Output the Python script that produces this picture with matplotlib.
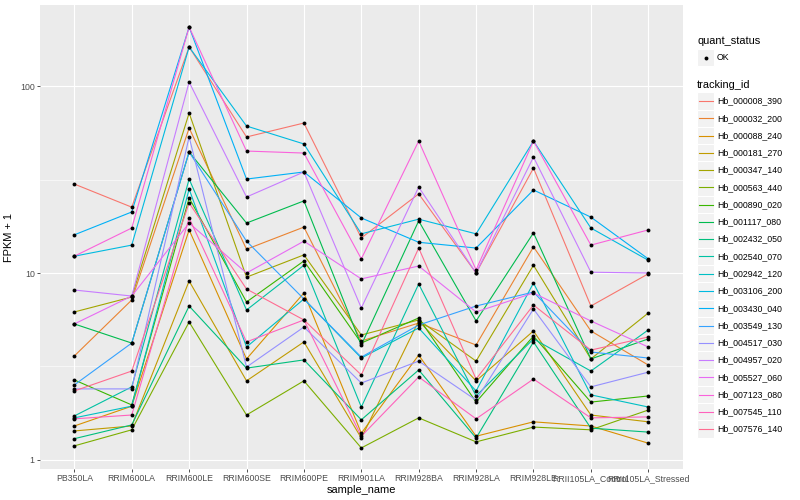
import matplotlib
matplotlib.use("Agg")
import matplotlib.pyplot as plt
from matplotlib.patches import Rectangle
import numpy as np

plt.rcParams['font.family'] = ['Liberation Sans', 'DejaVu Sans']

samples = ["PB350LA", "RRIM600LA", "RRIM600LE", "RRIM600SE", "RRIM600PE",
           "RRIM901LA", "RRIM928BA", "RRIM928LA", "RRIM928LE",
           "RRII105LA_Control", "RRII105LA_Stressed"]

tracking_ids = ["Hb_000008_390", "Hb_000032_200", "Hb_000088_240",
                "Hb_000181_270", "Hb_000347_140", "Hb_000563_440",
                "Hb_000890_020", "Hb_001117_080", "Hb_002432_050",
                "Hb_002540_070", "Hb_002942_120", "Hb_003106_200",
                "Hb_003430_040", "Hb_003549_130", "Hb_004517_030",
                "Hb_004957_020", "Hb_005527_060", "Hb_007123_080",
                "Hb_007545_110", "Hb_007576_140"]

# FPKM + 1, one list per gene, in sample order
hb_000008_390 = [29.9, 22.5, 161.7, 53.4, 63.4, 15.4, 26.5, 10.0, 36.4, 6.66, 9.9]
hb_000032_200 = [3.60, 7.17, 59.6, 13.4, 17.6, 4.33, 5.40, 4.12, 13.8, 4.90, 3.22]
hb_000088_240 = [1.52, 1.94, 17.0, 3.47, 7.82, 1.39, 3.64, 1.34, 1.60, 1.52, 1.23]
hb_000181_270 = [1.43, 1.52, 9.06, 2.65, 4.28, 1.31, 5.54, 2.65, 4.90, 1.74, 1.60]
hb_000347_140 = [6.19, 7.44, 71.7, 9.5, 12.5, 4.66, 5.61, 3.38, 11.0, 3.47, 6.11]
hb_000563_440 = [1.19, 1.45, 5.47, 1.74, 2.65, 1.16, 1.68, 1.25, 1.50, 1.45, 1.85]
hb_000890_020 = [2.68, 1.97, 25.2, 7.00, 11.6, 4.22, 5.75, 2.04, 4.60, 2.04, 2.20]
hb_001117_080 = [5.34, 4.22, 44.4, 18.5, 24.3, 4.12, 19.0, 5.54, 16.4, 3.47, 4.44]
hb_002432_050 = [1.30, 1.54, 6.66, 3.10, 3.43, 1.64, 3.03, 1.31, 4.28, 1.48, 1.41]
hb_002540_070 = [1.72, 2.46, 31.8, 6.34, 11.0, 1.92, 8.73, 2.20, 4.44, 2.99, 4.96]
hb_002942_120 = [1.68, 1.94, 28.1, 4.02, 7.26, 3.51, 5.08, 2.34, 8.84, 2.23, 1.92]
hb_003106_200 = [12.3, 14.1, 161.7, 61.1, 49.0, 16.2, 19.4, 16.2, 50.8, 17.4, 11.7]
hb_003430_040 = [16.0, 21.2, 206.8, 31.8, 34.7, 19.7, 14.6, 13.6, 27.8, 19.9, 11.9]
hb_003549_130 = [2.52, 4.22, 44.4, 14.8, 7.26, 3.55, 5.27, 6.66, 7.91, 3.78, 3.51]
hb_004517_030 = [2.40, 2.40, 53.4, 3.14, 5.14, 2.58, 3.38, 2.09, 6.42, 2.46, 2.95]
hb_004957_020 = [8.11, 7.53, 105.0, 25.5, 34.7, 6.50, 28.8, 10.0, 41.7, 10.1, 10.0]
hb_005527_060 = [5.34, 7.53, 18.5, 10.0, 14.8, 9.3, 10.9, 6.19, 7.82, 5.54, 4.02]
hb_007123_080 = [12.3, 17.4, 206.8, 44.9, 43.8, 11.9, 50.8, 10.4, 50.8, 14.1, 17.0]
hb_007545_110 = [1.66, 1.74, 19.7, 4.28, 5.61, 1.34, 2.78, 1.66, 2.71, 1.68, 1.70]
hb_007576_140 = [2.34, 2.99, 23.7, 8.21, 5.61, 2.85, 13.6, 2.71, 6.74, 3.87, 4.55]

series = [hb_000008_390, hb_000032_200, hb_000088_240, hb_000181_270,
          hb_000347_140, hb_000563_440, hb_000890_020, hb_001117_080,
          hb_002432_050, hb_002540_070, hb_002942_120, hb_003106_200,
          hb_003430_040, hb_003549_130, hb_004517_030, hb_004957_020,
          hb_005527_060, hb_007123_080, hb_007545_110, hb_007576_140]

# ggplot hue palette, 20 levels
palette = ["#F8766D", "#EA8331", "#D89000", "#C09B00", "#A3A500",
           "#7CAE00", "#39B600", "#00BB4E", "#00BF7D", "#00C1A3",
           "#00BFC4", "#00BAE0", "#00B0F6", "#35A2FF", "#9590FF",
           "#C77CFF", "#E76BF3", "#FA62DB", "#FF62BC", "#FF6C91"]

fig = plt.figure(figsize=(8, 5), dpi=100)
ax = fig.add_axes([39.9 / 800, 31 / 500, 642.8 / 800, 464 / 500])
ax.set_facecolor("#EBEBEB")

x = np.arange(len(samples))
for vals, col in zip(series, palette):
    ax.plot(x, vals, color=col, lw=0.8, zorder=3)
for vals in series:
    ax.plot(x, vals, "o", color="black", ms=2.8, mew=0, zorder=4)

ax.set_yscale("log")
ax.set_ylim(0.895, 271.2)
ax.set_xlim(-0.6, len(samples) - 0.4)

ax.set_yticks([1, 10, 100])
ax.set_yticklabels(["1", "10", "100"])
ax.set_yticks([10 ** 0.5, 10 ** 1.5], minor=True)
ax.yaxis.set_minor_formatter(matplotlib.ticker.NullFormatter())
ax.set_xticks(x)
ax.set_xticklabels(samples)

ax.grid(True, which="major", color="white", lw=0.8, zorder=1)
ax.grid(True, which="minor", axis="y", color="white", lw=0.4, zorder=1)
ax.set_axisbelow(True)
for s in ax.spines.values():
    s.set_visible(False)

ax.tick_params(which="major", length=2.2, width=0.6, color="#333333",
               labelsize=6.3, labelcolor="#4D4D4D", pad=1.5)
ax.tick_params(which="minor", length=0)

ax.set_xlabel("sample_name", fontsize=7.9, labelpad=1)
ax.set_ylabel("FPKM + 1", fontsize=7.9, labelpad=4)

# legends, laid out in pixel coordinates
lg = fig.add_axes([0, 0, 1, 1], facecolor="none")
lg.set_xlim(0, 800)
lg.set_ylim(500, 0)
lg.axis("off")

lg.text(697, 41, "quant_status", fontsize=7.9, va="center")
lg.add_patch(Rectangle((697, 49), 17, 17, fc="#F2F2F2", ec="white", lw=0.8))
lg.plot([705.5], [57.5], "o", color="black", ms=2.8, mew=0)
lg.text(717, 57.5, "OK", fontsize=6.3, va="center")

lg.text(697, 85, "tracking_id", fontsize=7.9, va="center")
step = 17.27
for i, (tid, col) in enumerate(zip(tracking_ids, palette)):
    yc = 101 + i * step
    lg.add_patch(Rectangle((697, yc - step / 2), 17, step,
                           fc="#F2F2F2", ec="white", lw=0.8))
    lg.plot([698.5, 712.5], [yc, yc], color=col, lw=0.8)
    lg.text(717, yc, tid, fontsize=6.3, va="center")

fig.savefig("out.png", dpi=100)
